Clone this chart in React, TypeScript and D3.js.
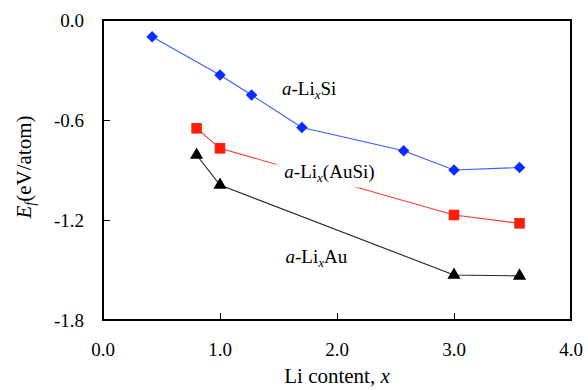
import { useEffect, useRef } from 'react';
import * as d3 from 'd3';

// Li content x vs formation energy (eV/atom)
const siX = [0.42, 1.0, 1.27, 1.7, 2.57, 3.0, 3.56];
const siE = [-0.1, -0.33, -0.45, -0.645, -0.785, -0.9, -0.885];
const ausiX = [0.8, 1.0, 3.0, 3.56];
const ausiE = [-0.65, -0.77, -1.17, -1.22];
const auX = [0.8, 1.0, 3.0, 3.56];
const auE = [-0.81, -0.99, -1.53, -1.535];

const xTicks = [0, 1, 2, 3, 4];
const yTicks = [0, -0.6, -1.2, -1.8];

export default function App() {
  const ref = useRef<SVGSVGElement>(null);

  useEffect(() => {
    const svg = d3.select(ref.current);
    svg.selectAll('*').remove();

    const W = 588, H = 390;
    const margin = { top: 20, right: 17, bottom: 70, left: 103 };
    const w = W - margin.left - margin.right;
    const h = H - margin.top - margin.bottom;
    const font = 'Liberation Serif, serif';

    const g = svg.append('g').attr('transform', `translate(${margin.left},${margin.top})`)
      .attr('font-family', font);
    const x = d3.scaleLinear().domain([0, 4]).range([0, w]);
    const y = d3.scaleLinear().domain([-1.8, 0]).range([h, 0]);

    // inward ticks
    g.append('g').attr('transform', `translate(0,${h})`)
      .call(d3.axisBottom(x).tickValues([1, 2, 3]).tickSize(-7).tickFormat('' as never))
      .call(gg => gg.select('.domain').remove())
      .call(gg => gg.selectAll('line').attr('stroke', '#000').attr('stroke-width', 1));
    g.append('g')
      .call(d3.axisLeft(y).tickValues([-0.6, -1.2]).tickSize(-7).tickFormat('' as never))
      .call(gg => gg.select('.domain').remove())
      .call(gg => gg.selectAll('line').attr('stroke', '#000').attr('stroke-width', 1));

    // tick labels
    g.selectAll('.xl').data(xTicks).enter().append('text')
      .attr('x', d => x(d)).attr('y', h + 36)
      .attr('text-anchor', 'middle').attr('font-family', font).attr('font-size', 19)
      .text(d => d.toFixed(1));
    g.selectAll('.yl').data(yTicks).enter().append('text')
      .attr('x', -19).attr('y', d => y(d) + 7)
      .attr('text-anchor', 'end').attr('font-family', font).attr('font-size', 19)
      .text(d => d.toFixed(1));

    const series = [
      { xs: siX, ys: siE, line: '#3a5cff', fill: '#0a2cff', shape: d3.symbolDiamond2, size: 85 },
      { xs: ausiX, ys: ausiE, line: '#ff3a2a', fill: '#ff1e0c', shape: d3.symbolSquare, size: 112 },
      { xs: auX, ys: auE, line: '#222', fill: '#000', shape: d3.symbolTriangle, size: 75 },
    ];

    series.forEach(s => {
      const pts = s.xs.map((v, i) => [v, s.ys[i]] as [number, number]);
      g.append('path').datum(pts)
        .attr('d', d3.line().x(d => x(d[0])).y(d => y(d[1])))
        .attr('fill', 'none').attr('stroke', s.line).attr('stroke-width', 1.1);
    });

    const label = (tx: number, ty: number, tail: string, bg: boolean) => {
      const t = g.append('text').attr('x', x(tx)).attr('y', y(ty))
        .attr('font-family', font).attr('font-size', 19);
      t.append('tspan').attr('font-style', 'italic').text('a');
      t.append('tspan').text('-Li');
      t.append('tspan').attr('font-style', 'italic').attr('font-size', 13).attr('dy', 4).text('x');
      t.append('tspan').attr('dy', -4).text(tail);
      if (bg) {
        const node = t.node() as SVGTextElement;
        const b = node.getBBox();
        g.insert('rect', () => node).attr('x', b.x - 8).attr('y', b.y - 1)
          .attr('width', b.width + 4).attr('height', b.height + 3).attr('fill', '#fff');
      }
    };
    label(1.53, -0.447, 'Si', false);
    label(1.55, -0.95, '(AuSi)', true);
    label(1.56, -1.46, 'Au', false);

    series.forEach(s => {
      g.selectAll(null).data(s.xs.map((v, i) => [v, s.ys[i]])).enter().append('path')
        .attr('d', d3.symbol(s.shape, s.size)())
        .attr('transform', d => `translate(${x(d[0])},${y(d[1])})`)
        .attr('fill', s.fill);
    });

    // frame
    g.append('rect').attr('width', w).attr('height', h)
      .attr('fill', 'none').attr('stroke', '#000').attr('stroke-width', 2);

    // axis titles
    const xt = g.append('text').attr('x', w / 2).attr('y', h + 63)
      .attr('text-anchor', 'middle').attr('font-family', font).attr('font-size', 21);
    xt.append('tspan').text('Li content, ');
    xt.append('tspan').attr('font-style', 'italic').text('x');

    const yt = g.append('text').attr('transform', `translate(${-72},${h / 2 - 3}) rotate(-90)`)
      .attr('text-anchor', 'middle').attr('font-family', font).attr('font-size', 21);
    yt.append('tspan').attr('font-style', 'italic').text('E');
    yt.append('tspan').attr('font-style', 'italic').attr('font-size', 14).attr('dy', 4).text('f');
    yt.append('tspan').attr('dy', -4).text('(eV/atom)');
  }, []);

  return (
    <svg ref={ref} width={588} height={390}
      style={{ position: 'absolute', left: 0, top: 0, background: '#fff' }} />
  );
}
